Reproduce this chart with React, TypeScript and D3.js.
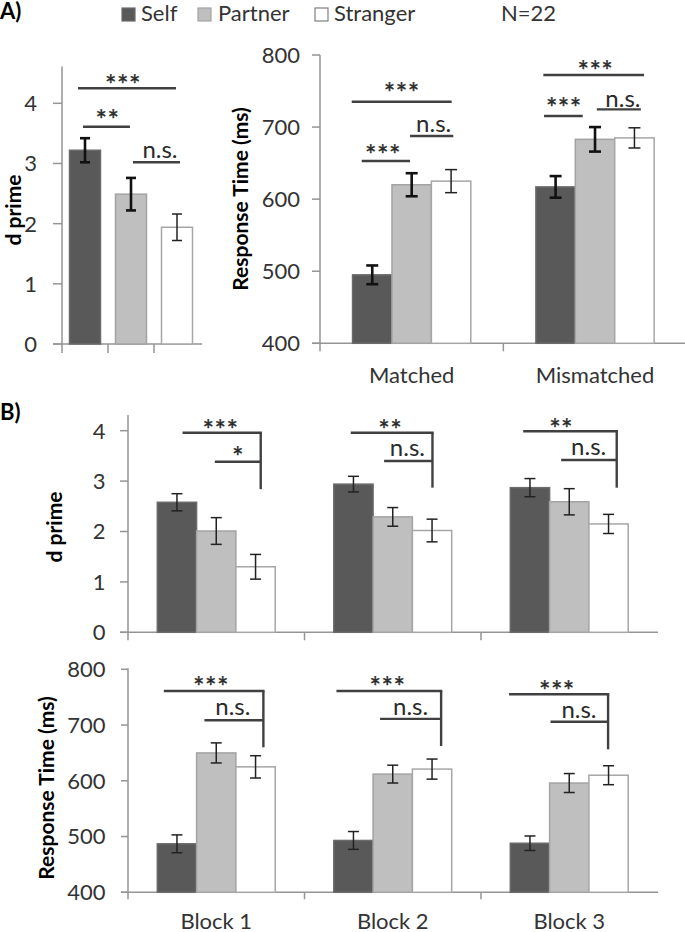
import React from 'react';
import * as d3 from 'd3';

const FONT = "Lato, 'Open Sans', sans-serif";
const TEXT = '#333333';

// ---------- data ----------
const seriesNames = ['Self', 'Partner', 'Stranger'];
const conditionNames = ['Matched', 'Mismatched'];
const blockNames = ['Block 1', 'Block 2', 'Block 3'];
const dprimeTicks = [0, 1, 2, 3, 4];
const rtTicks = [400, 500, 600, 700, 800];

// Panel A — overall d prime (one bar per partner type)
const dprimeOverall = [3.22, 2.49, 1.94];
const dprimeOverallErr = [0.2, 0.27, 0.22];

// Panel A — response time by matching condition
const rtSelfCond = [495, 617];
const rtSelfCondErr = [13, 15];
const rtPartnerCond = [620, 683];
const rtPartnerCondErr = [16, 17];
const rtStrangerCond = [625, 685];
const rtStrangerCondErr = [16, 14];

// Panel B — d prime by block
const dpSelfBlock = [2.58, 2.94, 2.87];
const dpSelfBlockErr = [0.17, 0.155, 0.18];
const dpPartnerBlock = [2.01, 2.29, 2.59];
const dpPartnerBlockErr = [0.265, 0.185, 0.26];
const dpStrangerBlock = [1.3, 2.02, 2.15];
const dpStrangerBlockErr = [0.245, 0.225, 0.19];

// Panel B — response time by block
const rtSelfBlock = [487, 493, 488];
const rtSelfBlockErr = [16, 16, 13];
const rtPartnerBlock = [650, 612, 596];
const rtPartnerBlockErr = [18, 16, 17];
const rtStrangerBlock = [625, 621, 610];
const rtStrangerBlockErr = [20, 18, 17];

// significance annotations (x in band units, y in data units)
type Ann = { x1: number; x2: number; y: number; drop?: number; label: string; lx: number; ly: number };
const annDprimeA: Ann[] = [
  { x1: 0.348, x2: 2.478, y: 4.25, label: '***', lx: 1.326, ly: 4.3 },
  { x1: 0.457, x2: 1.478, y: 3.61, label: '**', lx: 0.989, ly: 3.72 },
  { x1: 1.543, x2: 2.565, y: 3.02, label: 'n.s.', lx: 2.13, ly: 3.095 },
];
const annRtA: Ann[] = [
  { x1: 0.173, x2: 0.718, y: 735.2, label: '***', lx: 0.446, ly: 746.8 },
  { x1: 0.2275, x2: 0.491, y: 652.9, label: '***', lx: 0.344, ly: 661.2 },
  { x1: 0.491, x2: 0.727, y: 687.6, label: 'n.s.', lx: 0.62, ly: 693.6 },
  { x1: 1.218, x2: 1.767, y: 772.2, label: '***', lx: 1.502, ly: 778.2 },
  { x1: 1.222, x2: 1.433, y: 715.3, label: '***', lx: 1.33, ly: 726.0 },
  { x1: 1.51, x2: 1.75, y: 724.6, label: 'n.s.', lx: 1.652, ly: 728.2 },
];
const annDprimeB: Ann[] = [
  { x1: 0.309, x2: 0.752, y: 3.96, drop: 2.84, label: '***', lx: 0.524, ly: 4.01 },
  { x1: 0.492, x2: 0.752, y: 3.385, label: '*', lx: 0.623, ly: 3.48 },
  { x1: 1.262, x2: 1.725, y: 3.96, drop: 2.87, label: '**', lx: 1.486, ly: 4.01 },
  { x1: 1.451, x2: 1.725, y: 3.4, label: 'n.s.', lx: 1.583, ly: 3.5 },
  { x1: 2.239, x2: 2.769, y: 3.99, drop: 2.87, label: '**', lx: 2.454, ly: 4.03 },
  { x1: 2.454, x2: 2.769, y: 3.42, label: 'n.s.', lx: 2.61, ly: 3.52 },
];
const annRtB: Ann[] = [
  { x1: 0.203, x2: 0.767, y: 761.1, drop: 660.1, label: '***', lx: 0.47, ly: 768.8 },
  { x1: 0.433, x2: 0.767, y: 708.6, label: 'n.s.', lx: 0.594, ly: 718.0 },
  { x1: 1.181, x2: 1.774, y: 761.1, drop: 662.4, label: '***', lx: 1.47, ly: 768.8 },
  { x1: 1.428, x2: 1.774, y: 711.0, label: 'n.s.', lx: 1.601, ly: 718.0 },
  { x1: 2.159, x2: 2.72, y: 755.2, drop: 656.5, label: '***', lx: 2.43, ly: 761.6 },
  { x1: 2.394, x2: 2.72, y: 706.0, label: 'n.s.', lx: 2.555, ly: 712.1 },
];

// ---------- styles ----------
const FILLS = ['#595959', '#bfbfbf', '#ffffff'];
const STROKES = ['#6b6b6b', '#a3a3a3', '#a6a6a6'];
const AXIS = '#959595';
const SIG = '#404040';

type PanelProps = {
  cats: string[];
  single?: boolean;
  vals: number[][];
  errs: number[][];
  yAxisX: number;
  bandEnd: number;
  axisEnd: number;
  yDom: [number, number];
  yRng: [number, number];
  yTopVal: number;
  frac: number;
  ticks: number[];
  labelGap: number;
  tickLen: number;
  anns: Ann[];
  thickErr: boolean;
  capW: number;
  catLabelY?: number;
  title: string;
  titleX: number;
  titleY: number;
};

function Panel(p: PanelProps) {
  const y = d3.scaleLinear().domain(p.yDom).range(p.yRng);
  const x = d3.scaleBand<string>().domain(p.cats).range([p.yAxisX, p.bandEnd]).padding(0);
  const t = d3.scaleLinear().domain([0, p.cats.length]).range([p.yAxisX, p.bandEnd]);
  const bw = x.bandwidth();
  const base = y(p.yDom[0]);
  const bars: { x: number; w: number; v: number; e: number; s: number; key: string }[] = [];
  p.cats.forEach((c, ci) => {
    const x0 = x(c) as number;
    if (p.single) {
      const w = bw * p.frac;
      bars.push({ x: x0 + (bw - w) / 2, w, v: p.vals[0][ci], e: p.errs[0][ci], s: ci, key: c });
    } else {
      const gw = bw * p.frac;
      const w = gw / p.vals.length;
      p.vals.forEach((sv, si) => {
        bars.push({ x: x0 + (bw - gw) / 2 + si * w, w, v: sv[ci], e: p.errs[si][ci], s: si, key: c + si });
      });
    }
  });
  const STAR_SIZE = 27;
  const STAR_OFF = 10;
  return (
    <g>
      {/* axes */}
      <line x1={p.yAxisX} x2={p.yAxisX} y1={y(p.yTopVal)} y2={base + p.tickLen} stroke={AXIS} strokeWidth={1.5} />
      <line x1={p.yAxisX - p.tickLen} x2={p.axisEnd} y1={base} y2={base} stroke={AXIS} strokeWidth={1.5} />
      {p.ticks.map((v) => (
        <g key={'yt' + v}>
          <line x1={p.yAxisX - p.tickLen} x2={p.yAxisX} y1={y(v)} y2={y(v)} stroke={AXIS} strokeWidth={1.5} />
          <text x={p.yAxisX - p.labelGap} y={y(v)} dy="0.36em" textAnchor="end" fontSize={22} fill={TEXT} fontFamily={FONT}>
            {v}
          </text>
        </g>
      ))}
      {d3.range(1, p.cats.length).map((i) => (
        <line key={'xt' + i} x1={t(i)} x2={t(i)} y1={base} y2={base + p.tickLen} stroke={AXIS} strokeWidth={1.5} />
      ))}
      {/* bars */}
      {bars.map((b) => (
        <rect key={'b' + b.key} x={b.x} y={y(b.v)} width={b.w} height={base - y(b.v)} fill={FILLS[b.s]} stroke={STROKES[b.s]} strokeWidth={1.5} />
      ))}
      {/* error bars */}
      {bars.map((b) => {
        const cx = b.x + b.w / 2;
        const sw = p.thickErr && b.s < 2 ? 2.6 : 1.5;
        const col = p.thickErr && b.s < 2 ? '#111' : '#222';
        const hi = y(b.v + b.e);
        const lo = y(b.v - b.e);
        return (
          <g key={'e' + b.key} stroke={col} strokeWidth={sw}>
            <line x1={cx} x2={cx} y1={hi} y2={lo} />
            <line x1={cx - p.capW / 2} x2={cx + p.capW / 2} y1={hi} y2={hi} />
            <line x1={cx - p.capW / 2} x2={cx + p.capW / 2} y1={lo} y2={lo} />
          </g>
        );
      })}
      {/* significance */}
      {p.anns.map((a, i) => (
        <g key={'a' + i}>
          <line x1={t(a.x1)} x2={t(a.x2) + (a.drop !== undefined ? 1.2 : 0)} y1={y(a.y)} y2={y(a.y)} stroke={SIG} strokeWidth={2.4} />
          {a.drop !== undefined && (
            <line x1={t(a.x2)} x2={t(a.x2)} y1={y(a.y)} y2={y(a.drop)} stroke={SIG} strokeWidth={2.4} />
          )}
          <text
            x={t(a.lx)}
            y={a.label === 'n.s.' ? y(a.ly) : y(a.ly) + STAR_OFF}
            textAnchor="middle"
            fontSize={a.label === 'n.s.' ? 24 : STAR_SIZE}
            letterSpacing={a.label === 'n.s.' ? 0 : 0.5}
            fill="#2a2a2a"
            stroke={a.label === 'n.s.' ? 'none' : '#2a2a2a'}
            strokeWidth={0.4}
            fontFamily={FONT}
          >
            {a.label}
          </text>
        </g>
      ))}
      {/* category labels */}
      {p.catLabelY !== undefined &&
        p.cats.map((c) => (
          <text key={'c' + c} x={(x(c) as number) + bw / 2} y={p.catLabelY} textAnchor="middle" fontSize={22} fill={TEXT} fontFamily={FONT}>
            {c}
          </text>
        ))}
      {/* title */}
      <text
        transform={`translate(${p.titleX},${p.titleY}) rotate(-90)`}
        textAnchor="middle"
        dy="0.35em"
        fontSize={21}
        fontWeight="bold"
        fill="#000"
        fontFamily={FONT}
      >
        {p.title}
      </text>
    </g>
  );
}

export default function App() {
  const legendX = [122, 198, 315];
  const legendTextX = [141, 218, 334];
  return (
    <svg width={685} height={932} style={{ position: 'absolute', left: 0, top: 0, background: '#fff' }} fontFamily={FONT}>
      <rect x={0} y={0} width={685} height={932} fill="#fff" />
      <text x={0} y={19} fontSize={22} fontWeight="bold" fill="#000">A)</text>
      <text x={0} y={420} fontSize={22} fontWeight="bold" fill="#000">B)</text>
      {seriesNames.map((s, i) => (
        <g key={s}>
          <rect x={legendX[i]} y={8} width={13} height={13} fill={FILLS[i]} stroke={i === 2 ? '#7f7f7f' : STROKES[i]} strokeWidth={1.2} />
          <text x={legendTextX[i]} y={21} fontSize={22} fill={TEXT}>{s}</text>
        </g>
      ))}
      <text x={501} y={21} fontSize={22} fill={TEXT}>N=22</text>

      <Panel
        cats={seriesNames}
        single
        vals={[dprimeOverall]}
        errs={[dprimeOverallErr]}
        yAxisX={62}
        bandEnd={200}
        axisEnd={202}
        yDom={[0, 4]}
        yRng={[344, 103.3]}
        yTopVal={4.61}
        frac={0.674}
        ticks={dprimeTicks}
        labelGap={25}
        tickLen={9}
        anns={annDprimeA}
        thickErr
        capW={10}
        title="d prime"
        titleX={14}
        titleY={210}
      />
      <Panel
        cats={conditionNames}
        vals={[rtSelfCond, rtPartnerCond, rtStrangerCond]}
        errs={[rtSelfCondErr, rtPartnerCondErr, rtStrangerCondErr]}
        yAxisX={320}
        bandEnd={686.7}
        axisEnd={686}
        yDom={[400, 800]}
        yRng={[343.3, 55]}
        yTopVal={800}
        frac={0.645}
        ticks={rtTicks}
        labelGap={20}
        tickLen={8}
        anns={annRtA}
        thickErr
        capW={12}
        catLabelY={383}
        title="Response Time (ms)"
        titleX={241}
        titleY={199}
      />
      <Panel
        cats={blockNames}
        vals={[dpSelfBlock, dpPartnerBlock, dpStrangerBlock]}
        errs={[dpSelfBlockErr, dpPartnerBlockErr, dpStrangerBlockErr]}
        yAxisX={128}
        bandEnd={657.5}
        axisEnd={658}
        yDom={[0, 4]}
        yRng={[632.3, 430.7]}
        yTopVal={4.31}
        frac={0.668}
        ticks={dprimeTicks}
        labelGap={22.5}
        tickLen={8}
        anns={annDprimeB}
        thickErr={false}
        capW={11}
        title="d prime"
        titleX={55}
        titleY={527}
      />
      <Panel
        cats={blockNames}
        vals={[rtSelfBlock, rtPartnerBlock, rtStrangerBlock]}
        errs={[rtSelfBlockErr, rtPartnerBlockErr, rtStrangerBlockErr]}
        yAxisX={128}
        bandEnd={657.5}
        axisEnd={658}
        yDom={[400, 800]}
        yRng={[892.3, 669.3]}
        yTopVal={802}
        frac={0.668}
        ticks={rtTicks}
        labelGap={22.5}
        tickLen={7}
        anns={annRtB}
        thickErr={false}
        capW={11}
        catLabelY={929}
        title="Response Time (ms)"
        titleX={47}
        titleY={788}
      />
    </svg>
  );
}
